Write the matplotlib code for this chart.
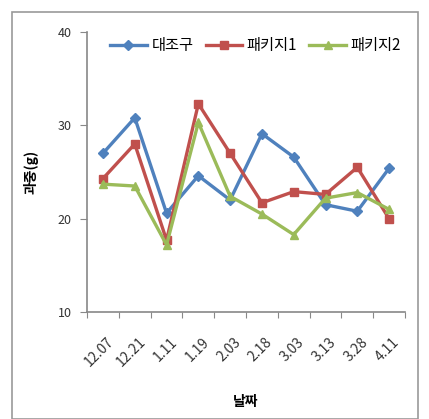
import matplotlib
matplotlib.use("Agg")
import matplotlib.pyplot as plt
from matplotlib.patches import Rectangle
from matplotlib.transforms import ScaledTranslation

plt.rcParams['font.family'] = ['Noto Sans CJK KR', 'DejaVu Sans']

dates = ["12.07", "12.21", "1.11", "1.19", "2.03", "2.18", "3.03", "3.13", "3.28", "4.11"]
control = [27.0, 30.8, 20.6, 24.6, 22.0, 29.1, 26.6, 21.5, 20.8, 25.4]
package1 = [24.3, 28.0, 17.7, 32.3, 27.0, 21.7, 22.9, 22.6, 25.5, 20.0]
package2 = [23.7, 23.5, 17.2, 30.3, 22.4, 20.5, 18.3, 22.2, 22.8, 21.0]
series_names = ["대조구", "패키지1", "패키지2"]

fig = plt.figure(figsize=(4.29, 4.19), dpi=100)
ax = fig.add_axes([0.203, 0.255, 0.741, 0.669])

xs = [i + 0.5 for i in range(len(dates))]
ax.plot(xs, control, color="#4F81BD", marker="D", markersize=5, lw=2.4, label=series_names[0])
ax.plot(xs, package1, color="#C0504D", marker="s", markersize=6, lw=2.4, label=series_names[1])
ax.plot(xs, package2, color="#9BBB59", marker="^", markersize=6, lw=2.4, label=series_names[2])

ax.set_xlim(0, len(dates))
ax.set_ylim(10, 40)
ax.set_yticks([10, 20, 30, 40])
ax.tick_params(axis='y', labelsize=9, length=5, direction='out', color='#888888',
               labelcolor='#333333', pad=6)

ax.set_xticks(range(len(dates) + 1))
ax.set_xticklabels([])
ax.tick_params(axis='x', which='major', length=4, direction='out', color='#888888')
ax.set_xticks(xs, minor=True)
ax.set_xticklabels(dates, minor=True, rotation=45, rotation_mode='anchor',
                   ha='right', va='center', fontsize=10, color='#333333')
ax.tick_params(axis='x', which='minor', length=0, pad=20)
shift = ScaledTranslation(6 / 72, 0, fig.dpi_scale_trans)
for lbl in ax.get_xticklabels(minor=True):
    lbl.set_transform(lbl.get_transform() + shift)

for side in ("top", "right"):
    ax.spines[side].set_visible(False)
for side in ("left", "bottom"):
    ax.spines[side].set_color("#888888")
    ax.spines[side].set_linewidth(1.2)

ax.set_ylabel("과중(g)", fontsize=10, fontweight='bold', labelpad=14)
ax.set_xlabel("날짜", fontsize=10, fontweight='bold', labelpad=18)

ax.legend(loc='upper center', bbox_to_anchor=(0.53, 1.03), ncol=3, frameon=False,
          fontsize=11, handlelength=2.4, columnspacing=0.8, handletextpad=0.3)

fig.patches.append(Rectangle((0.027, 0.0), 0.948, 0.971, transform=fig.transFigure,
                             fill=False, edgecolor="#999999", lw=1.2))

fig.savefig("out.png", dpi=100)
